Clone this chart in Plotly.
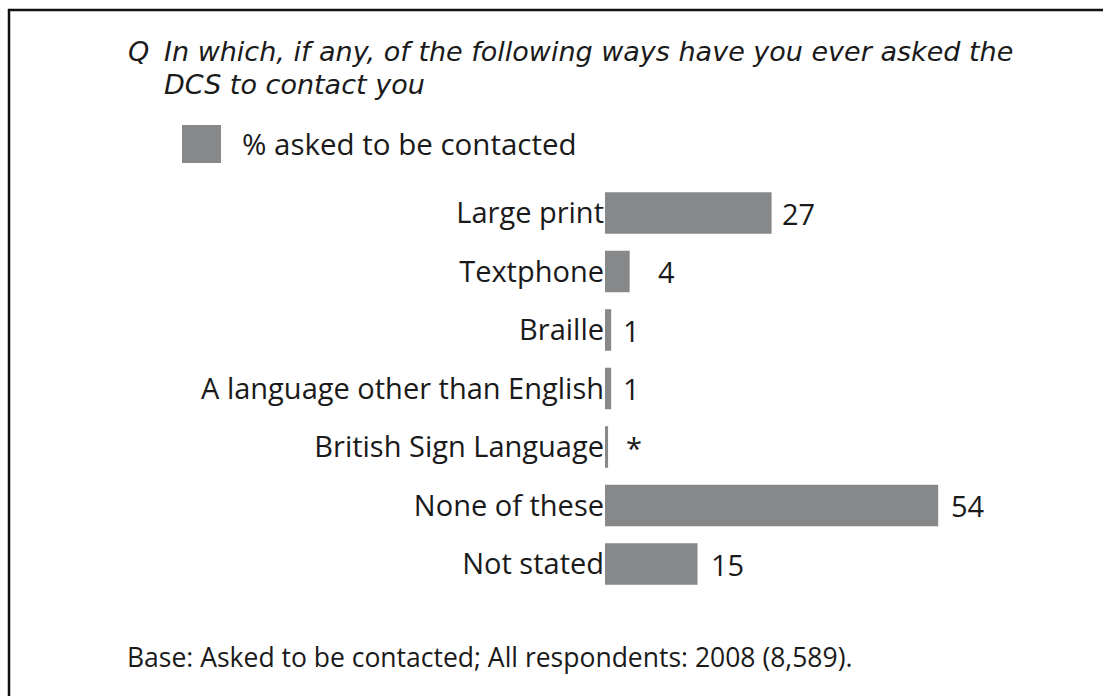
import plotly.graph_objects as go

categories = ["Large print", "Textphone", "Braille", "A language other than English",
              "British Sign Language", "None of these", "Not stated"]
values = [27, 4, 1, 1, 0.5, 54, 15]
value_labels = ["27", "4", "1", "1", "*", "54", "15"]
label_shift = [8, 26, 10, 10, 16, 11, 11]

series_name = "% asked to be contacted"
question_q = "Q"
question_line1 = "In which, if any, of the following ways have you ever asked the"
question_line2 = "DCS to contact you"
base_note = "Base: Asked to be contacted; All respondents: 2008 (8,589)."

W, H = 1103, 696
BAR = "#87888a"
TXT = "#1a1a1a"
FONT = "Open Sans"
TITLE_FONT = "DejaVu Sans"

def px(x):
    return x / W

def py(y):
    return 1 - y / H

fig = go.Figure()
fig.add_trace(go.Bar(
    x=values, y=categories, orientation="h",
    marker=dict(color=BAR, line=dict(width=0)),
    showlegend=False, hoverinfo="skip",
))

annotations = []
for c, v, t, s in zip(categories, values, value_labels, label_shift):
    annotations.append(dict(x=v, y=c, xref="x", yref="y", text=t, showarrow=False,
                            xanchor="left", yanchor="middle", xshift=s,
                            font=dict(family=FONT, size=29, color=TXT)))

annotations += [
    dict(x=px(126), y=py(51), xref="paper", yref="paper", text="<i>" + question_q + "</i>",
         showarrow=False, xanchor="left", yanchor="middle",
         font=dict(family=TITLE_FONT, size=27, color=TXT)),
    dict(x=px(162), y=py(51), xref="paper", yref="paper", text="<i>" + question_line1 + "</i>",
         showarrow=False, xanchor="left", yanchor="middle",
         font=dict(family=TITLE_FONT, size=27, color=TXT)),
    dict(x=px(162), y=py(85), xref="paper", yref="paper", text="<i>" + question_line2 + "</i>",
         showarrow=False, xanchor="left", yanchor="middle",
         font=dict(family=TITLE_FONT, size=27, color=TXT)),
    dict(x=px(240), y=py(144), xref="paper", yref="paper", text=series_name,
         showarrow=False, xanchor="left", yanchor="middle",
         font=dict(family=FONT, size=29.5, color=TXT)),
    dict(x=px(125), y=py(657), xref="paper", yref="paper", text=base_note,
         showarrow=False, xanchor="left", yanchor="middle",
         font=dict(family=FONT, size=26.5, color=TXT)),
]

shapes = [
    dict(type="rect", xref="paper", yref="paper", x0=px(182), x1=px(221), y0=py(125), y1=py(163),
         fillcolor=BAR, line=dict(width=0)),
    dict(type="line", xref="paper", yref="paper", x0=px(8), x1=px(W + 5), y0=py(10), y1=py(10),
         line=dict(color="#111111", width=2.5)),
    dict(type="line", xref="paper", yref="paper", x0=px(9), x1=px(9), y0=py(9), y1=py(H + 5),
         line=dict(color="#111111", width=2.5)),
]

x0_px = 605
px_per_unit = 6.17
fig.update_layout(
    width=W, height=H,
    margin=dict(l=0, r=0, t=0, b=0),
    paper_bgcolor="white", plot_bgcolor="white",
    bargap=0.29,
    xaxis=dict(domain=[px(x0_px), 1], range=[0, (W - x0_px) / px_per_unit],
               visible=False, fixedrange=True),
    yaxis=dict(domain=[py(593.25), py(183.75)], autorange="reversed",
               showgrid=False, zeroline=False, showline=False,
               ticks="", ticklen=0,
               tickfont=dict(family=FONT, size=29, color=TXT)),
    annotations=annotations,
    shapes=shapes,
)

fig.write_html("out.html", config={"displayModeBar": False},
               post_script="document.body.style.margin='0px';document.body.style.overflow='hidden';")
